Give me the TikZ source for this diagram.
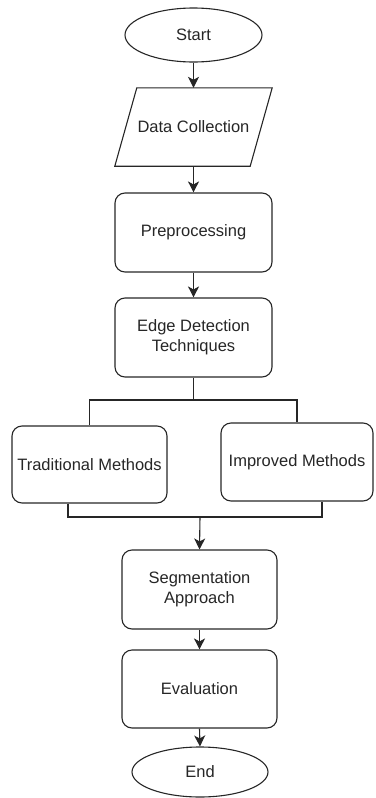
\documentclass[tikz,border=0pt]{standalone}
\usepackage{fontspec}
\setmainfont{Liberation Sans}
\usetikzlibrary{shapes.geometric,arrows.meta}
\begin{document}
\begin{tikzpicture}[x=1pt,y=-1pt,
  every node/.style={font=\fontsize{16.5}{20}\selectfont, text=black!85, inner sep=0pt},
  ln/.style={line width=1.1pt, draw=black!85},
  box/.style={ln, draw, rounded corners=10pt, align=center},
  term/.style={ln, draw, ellipse},
  arr/.style={ln, -{Stealth[length=11pt,width=11pt,inset=3pt]}}
]
\useasboundingbox (0,0) rectangle (375,798);
\node[term, minimum width=137pt, minimum height=54pt] (start) at (193.5,35) {Start};
\node[minimum width=157pt, minimum height=78pt] (data) at (193.5,127) {Data Collection};
\draw[ln] ([xshift=22pt]data.north west) -- (data.north east) -- ([xshift=-22pt]data.south east) -- (data.south west) -- cycle;
\node[box, minimum width=157pt, minimum height=79pt] (prep) at (193.5,232.5) {Preprocessing};
\node[box, minimum width=157pt, minimum height=79pt] (edge) at (193.5,337.5) {Edge Detection\\Techniques};
\node[box, minimum width=155pt, minimum height=77pt] (trad) at (89.5,464.5) {Traditional Methods};
\node[box, minimum width=152pt, minimum height=78pt] (impr) at (297,462) {Improved Methods};
\node[box, minimum width=155pt, minimum height=79pt] (seg) at (199.5,589.5) {Segmentation\\Approach};
\node[box, minimum width=155pt, minimum height=78pt] (eval) at (199.5,689) {Evaluation};
\node[term, minimum width=136pt, minimum height=50pt] (end) at (200,772) {End};
\coordinate (split) at (193.5,400);
\coordinate (join) at (200,517);
\draw[arr] (start.south) -- (data.north);
\draw[arr] (data.south) -- (prep.north);
\draw[arr] (prep.south) -- (edge.north);
\draw[ln] (edge.south) -- (split);
\draw[ln] (trad.north) |- (split) -| (impr.north);
\draw[ln] ([xshift=-21.5pt]trad.south) |- (join) -| ([xshift=25pt]impr.south);
\draw[arr] (join) -- (seg.north);
\draw[arr] (seg.south) -- (eval.north);
\draw[arr] (eval.south) -- (end.north);
\end{tikzpicture}
\end{document}
